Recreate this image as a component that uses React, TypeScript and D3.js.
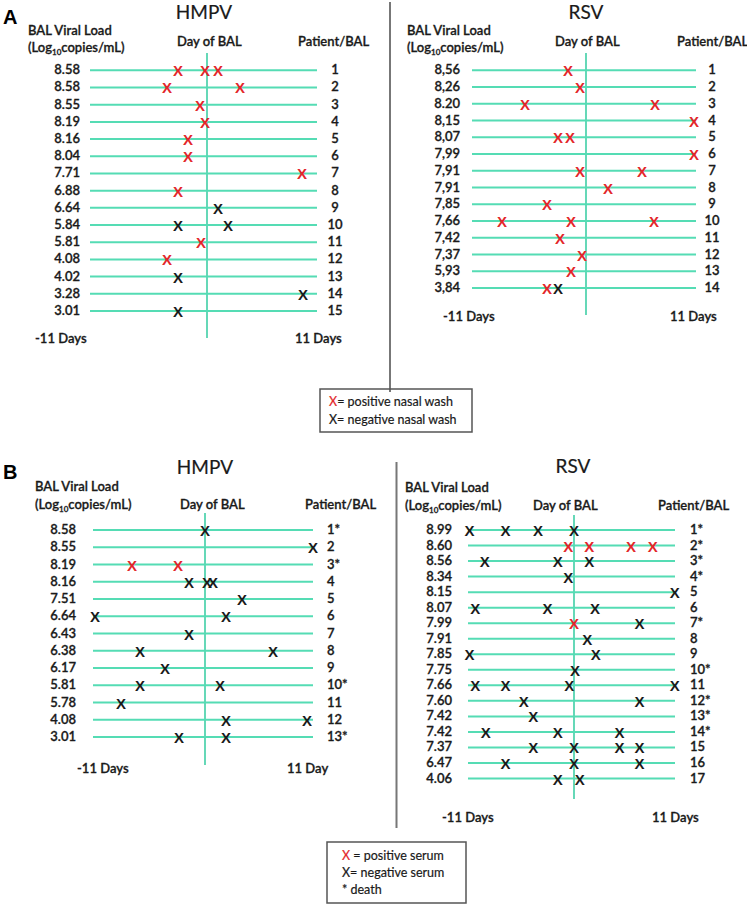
import React from 'react';
import * as d3 from 'd3';

// ---------- DATA ----------
const hmpvA_load = ["8.58","8.58","8.55","8.19","8.16","8.04","7.71","6.88","6.64","5.84","5.81","4.08","4.02","3.28","3.01"];
const hmpvA_patient = ["1","2","3","4","5","6","7","8","9","10","11","12","13","14","15"];
const hmpvA_pos = [[-2.9,-0.2,1.1],[-4.0,3.3],[-0.7],[-0.2],[-1.9],[-1.9],[9.5],[-2.9],[],[],[-0.6],[-4.0],[],[],[]];
const hmpvA_neg = [[],[],[],[],[],[],[],[],[1.1],[-2.9,2.1],[],[],[-2.9],[9.6],[-2.9]];

const rsvA_load = ["8,56","8,26","8.20","8,15","8,07","7,99","7,91","7,91","7,85","7,66","7,42","7,37","5,93","3,84"];
const rsvA_patient = ["1","2","3","4","5","6","7","8","9","10","11","12","13","14"];
const rsvA_pos = [[-1.8],[-0.6],[-6.1,6.9],[10.8],[-2.8,-1.6],[10.8],[-0.6,5.6],[2.2],[-3.9],[-8.4,-1.5,6.8],[-2.6],[-0.4],[-1.5],[-3.9]];
const rsvA_neg = [[],[],[],[],[],[],[],[],[],[],[],[],[],[-2.8]];

const hmpvB_load = ["8.58","8.55","8.19","8.16","7.51","6.64","6.43","6.38","6.17","5.81","5.78","4.08","3.01"];
const hmpvB_patient = ["1*","2","3*","4","5","6","7","8","9","10*","11","12","13*"];
const hmpvB_pos = [[],[],[-7.3,-2.7],[],[],[],[],[],[],[],[],[],[]];
const hmpvB_neg = [[0],[10.8],[],[-1.6,0.2,0.8],[3.7],[-11,2.1],[-1.6],[-6.5,6.8],[-4.0],[-6.5,1.5],[-8.4],[2.1,10.2],[-2.6,2.1]];

const rsvB_load = ["8.99","8.60","8.56","8.34","8.15","8.07","7.99","7.91","7.85","7.75","7.66","7.60","7.42","7.42","7.37","6.47","4.06"];
const rsvB_patient = ["1*","2*","3*","4*","5","6","7*","8","9","10*","11","12*","13*","14*","15","16","17"];
const rsvB_pos = [[],[-0.6,1.6,6.0,8.3],[],[],[],[],[0],[],[],[],[],[],[],[],[],[],[]];
const rsvB_neg = [[-11,-7.2,-3.8,0],[],[-9.4,-1.7,1.6],[-0.6],[10.6],[-10.4,-2.8,2.2],[6.9],[1.4],[-11,2.3],[0.1],[-10.4,-7.2,-0.5,10.6],[-5.3,6.9],[-4.3],[-9.3,-1.7,4.8],[-4.3,0,4.8,6.9],[-7.2,0,6.9],[-1.7,0.6]];

const dayDomain = [-11, 11];

// ---------- STYLE ----------
const FONT = "Lato, 'Open Sans', sans-serif";
const TEAL = "#55dcb4";
const TEAL_V = "#3fcfa6";
const RED = "#e3262a";
const INK = "#1a1a1a";

type Cfg = {
  cx: number; k: number; y0: number; y1: number;
  lx0: number; lx1: number; vy0: number; vy1: number;
  valX: number; patX: number; patAnchor: string;
  title: string; titleX: number; titleY: number;
  balX: number; balY: number; logY: number;
  dayX: number; dayY: number; patHX: number;
  minX: number; maxX: number; daysY: number; maxLabel: string;
};

function Panel({ load, patient, pos, neg, cfg }: any) {
  const c: Cfg = cfg;
  const x = d3.scaleLinear().domain(dayDomain).range([c.cx - 11 * c.k, c.cx + 11 * c.k]);
  const y = d3.scaleLinear().domain([0, load.length - 1]).range([c.y0, c.y1]);
  const fs = 13;
  const lbl = { fontSize: fs, fontWeight: 600, stroke: INK, strokeWidth: 0.3 } as any;
  return (
    <g fontFamily={FONT} fill={INK}>
      <text x={c.titleX} y={c.titleY} fontSize={19} textAnchor="middle" stroke={INK} strokeWidth={0.2}>{c.title}</text>
      <text x={c.balX} y={c.balY} {...lbl}>BAL Viral  Load</text>
      <text x={c.balX} y={c.logY} {...lbl}>(Log<tspan fontSize={8} dy={3}>10</tspan><tspan dy={-3}>copies/mL)</tspan></text>
      <text x={c.dayX} y={c.dayY} {...lbl}>Day of BAL</text>
      <text x={c.patHX} y={c.dayY} {...lbl}>Patient/BAL</text>
      <line x1={x(0)} x2={x(0)} y1={c.vy0} y2={c.vy1} stroke={TEAL_V} strokeWidth={1.6} />
      {load.map((v: string, i: number) => (
        <g key={i}>
          <line x1={c.lx0} x2={c.lx1} y1={y(i)} y2={y(i)} stroke={TEAL} strokeWidth={2} />
          <text x={c.valX} y={y(i) + 4} {...lbl} textAnchor="end">{v}</text>
          <text x={c.patX} y={y(i) + 4} {...lbl} textAnchor={c.patAnchor}>{patient[i]}</text>
          {pos[i].map((d: number, j: number) => (
            <text key={'p' + j} x={x(d)} y={y(i) + 6} fontSize={15} fontWeight={700}
              fontFamily="'Liberation Sans', Arial, sans-serif" textAnchor="middle" fill={RED}>X</text>
          ))}
          {neg[i].map((d: number, j: number) => (
            <text key={'n' + j} x={x(d)} y={y(i) + 6} fontSize={15} fontWeight={700}
              fontFamily="'Liberation Sans', Arial, sans-serif" textAnchor="middle" fill={INK}>X</text>
          ))}
        </g>
      ))}
      <text x={c.minX} y={c.daysY} {...lbl}>-11 Days</text>
      <text x={c.maxX} y={c.daysY} {...lbl}>{c.maxLabel}</text>
    </g>
  );
}

const cfgHmpvA: Cfg = {
  cx: 207, k: 10, y0: 70.3, y1: 311, lx0: 90, lx1: 317, vy0: 53, vy1: 338,
  valX: 80, patX: 335, patAnchor: "middle",
  title: "HMPV", titleX: 204, titleY: 19, balX: 28, balY: 35, logY: 52,
  dayX: 177, dayY: 46, patHX: 298, minX: 35, maxX: 295, daysY: 343, maxLabel: "11 Days",
};
const cfgRsvA: Cfg = {
  cx: 586, k: 10, y0: 70.3, y1: 288, lx0: 472, lx1: 696, vy0: 53, vy1: 315,
  valX: 460, patX: 712, patAnchor: "middle",
  title: "RSV", titleX: 586, titleY: 19, balX: 407, balY: 35, logY: 52,
  dayX: 555, dayY: 46, patHX: 677, minX: 443, maxX: 670, daysY: 321, maxLabel: "11 Days",
};
const cfgHmpvB: Cfg = {
  cx: 205, k: 10, y0: 530, y1: 737, lx0: 93, lx1: 313, vy0: 513, vy1: 765,
  valX: 76, patX: 327, patAnchor: "start",
  title: "HMPV", titleX: 205, titleY: 474, balX: 35, balY: 491, logY: 509,
  dayX: 180, dayY: 509, patHX: 305, minX: 77, maxX: 287, daysY: 773, maxLabel: "11 Day",
};
const cfgRsvB: Cfg = {
  cx: 574, k: 9.5, y0: 530, y1: 778.5, lx0: 468, lx1: 675, vy0: 515, vy1: 799,
  valX: 452, patX: 690, patAnchor: "start",
  title: "RSV", titleX: 573, titleY: 473, balX: 405, balY: 492, logY: 510,
  dayX: 533, dayY: 510, patHX: 658, minX: 442, maxX: 652, daysY: 822, maxLabel: "11 Days",
};

export default function App() {
  return (
    <svg width={747} height={908} style={{ position: 'fixed', left: 0, top: 0, background: '#fff' }}>
      <rect width={747} height={908} fill="#fff" />
      <text x={3} y={24} fontSize={20} fontWeight={700} fontFamily="'Liberation Sans', Arial, sans-serif">A</text>
      <text x={3} y={479} fontSize={20} fontWeight={700} fontFamily="'Liberation Sans', Arial, sans-serif">B</text>
      <line x1={390} x2={390} y1={2} y2={392} stroke="#777" strokeWidth={2} />
      <line x1={396.5} x2={396.5} y1={462} y2={828} stroke="#777" strokeWidth={2} />
      <Panel load={hmpvA_load} patient={hmpvA_patient} pos={hmpvA_pos} neg={hmpvA_neg} cfg={cfgHmpvA} />
      <Panel load={rsvA_load} patient={rsvA_patient} pos={rsvA_pos} neg={rsvA_neg} cfg={cfgRsvA} />
      <Panel load={hmpvB_load} patient={hmpvB_patient} pos={hmpvB_pos} neg={hmpvB_neg} cfg={cfgHmpvB} />
      <Panel load={rsvB_load} patient={rsvB_patient} pos={rsvB_pos} neg={rsvB_neg} cfg={cfgRsvB} />
      <g fontFamily={FONT} fontSize={12.5} fill={INK} stroke={INK} strokeWidth={0.2}>
        <rect x={320} y={389} width={152} height={43} fill="none" stroke="#555" strokeWidth={1.5} />
        <text x={329} y={406}><tspan fill={RED} stroke={RED}>X</tspan>= positive nasal wash</text>
        <text x={329} y={424}>X= negative nasal wash</text>
        <rect x={327} y={842} width={139} height={61} fill="none" stroke="#555" strokeWidth={1.5} />
        <text x={342} y={860}><tspan fill={RED} stroke={RED}>X</tspan> = positive serum</text>
        <text x={342} y={877}>X= negative serum</text>
        <text x={342} y={894}>* death</text>
      </g>
    </svg>
  );
}
